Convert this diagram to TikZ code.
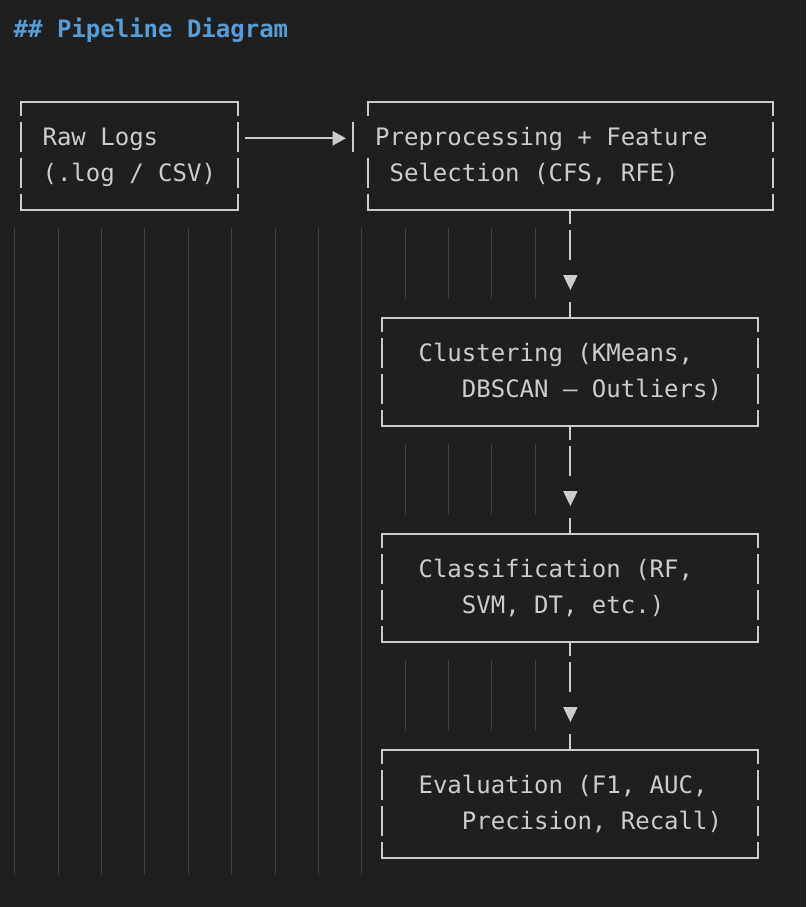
\documentclass[tikz,border=0pt]{standalone}
\usepackage{fontspec}
\newfontfamily\codefont{DejaVu Sans Mono}
\usetikzlibrary{fit}
\definecolor{bgc}{HTML}{1F1F1F}
\definecolor{fgc}{HTML}{CCCCCC}
\definecolor{guidec}{HTML}{404040}
\definecolor{headc}{HTML}{569CD6}
\newcommand\cx[1]{20.9+14.46*(#1)}
\newcommand\ry[1]{29.7+36*(#1)}
\newcommand\drawframe[1]{%
  \draw[hline] (#1.north west) -- (#1.north east);
  \draw[hline] (#1.south west) -- (#1.south east);
  \draw[vline] (#1.north west) -- (#1.south west);
  \draw[vline] (#1.north east) -- (#1.south east);}
\begin{document}
\begin{tikzpicture}[x=1pt,y=-1pt,
  txt/.style={anchor=base west, inner sep=0pt, outer sep=0pt, text=fgc,
    font=\codefont\fontsize{24}{24}\selectfont\frenchspacing},
  head/.style={txt, text=headc,
    font=\codefont\bfseries\fontsize{24}{24}\selectfont\frenchspacing},
  frame/.style={inner sep=0pt, outer sep=0pt},
  hline/.style={draw=fgc, line width=2pt, line cap=rect},
  vline/.style={draw=fgc, line width=2pt, dash pattern=on 30.3pt off 5.7pt, dash phase=16pt},
  vconn/.style={draw=fgc, line width=2pt, dash pattern=on 14.3pt off 5.7pt on 30.3pt off 41.7pt on 16pt},
  hconn/.style={draw=fgc, line width=2pt},
  guide/.style={draw=guidec, line width=1pt},
]
\fill[bgc] (0,0) rectangle (806,907);
\useasboundingbox (0,0) rectangle (806,907);

% indent guides
\foreach \c in {0,3,...,24}
  \draw[guide] ({14.8+14.46*\c},{\ry{6}-18}) -- ({14.8+14.46*\c},{\ry{23}+17});
\foreach \c in {27,30,33,36}
  \foreach \r in {6,12,18}
    \draw[guide] ({14.8+14.46*\c},{\ry{\r}-18}) -- ({14.8+14.46*\c},{\ry{\r}+53});

% title
\node[head] (title) at ({\cx{0}-7.23},{\ry{0}+7.4}) {\#\# Pipeline Diagram};

% boxes
\node[frame, fit={({\cx{0}},{\ry{2}}) ({\cx{15}},{\ry{5}})}] (raw) {};
\node[frame, fit={({\cx{24}},{\ry{2}}) ({\cx{52}},{\ry{5}})}] (prep) {};
\node[frame, fit={({\cx{25}},{\ry{8}}) ({\cx{51}},{\ry{11}})}] (clus) {};
\node[frame, fit={({\cx{25}},{\ry{14}}) ({\cx{51}},{\ry{17}})}] (cls) {};
\node[frame, fit={({\cx{25}},{\ry{20}}) ({\cx{51}},{\ry{23}})}] (eval) {};

\drawframe{raw}
\drawframe{clus}
\drawframe{cls}
\drawframe{eval}
% preprocessing box: left side shifted one cell on the first text row
\draw[hline] (prep.north west) -- (prep.north east);
\draw[hline] (prep.south west) -- (prep.south east);
\draw[vline] (prep.north east) -- (prep.south east);
\draw[draw=fgc, line width=2pt, dash pattern=on 14.3pt off 41.7pt on 30.3pt off 5.7pt on 16pt]
  (prep.north west) -- (prep.south west);
\draw[draw=fgc, line width=2pt] ({\cx{23}},{\ry{3}-16}) -- ({\cx{23}},{\ry{3}+14.3});

% texts
\node[txt] (raw-a)  at ({\cx{2}-7.23},{\ry{3}+7.4}) {Raw Logs};
\node[txt] (raw-b)  at ({\cx{2}-7.23},{\ry{4}+7.4}) {(.log / CSV)};
\node[txt] (prep-a) at ({\cx{25}-7.23},{\ry{3}+7.4}) {Preprocessing + Feature};
\node[txt] (prep-b) at ({\cx{26}-7.23},{\ry{4}+7.4}) {Selection (CFS, RFE)};
\node[txt] (clus-a) at ({\cx{28}-7.23},{\ry{9}+7.4}) {Clustering (KMeans,};
\node[txt] (clus-b) at ({\cx{31}-7.23},{\ry{10}+7.4}) {DBSCAN – Outliers)};
\node[txt] (cls-a)  at ({\cx{28}-7.23},{\ry{15}+7.4}) {Classification (RF,};
\node[txt] (cls-b)  at ({\cx{31}-7.23},{\ry{16}+7.4}) {SVM, DT, etc.)};
\node[txt] (eval-a) at ({\cx{28}-7.23},{\ry{21}+7.4}) {Evaluation (F1, AUC,};
\node[txt] (eval-b) at ({\cx{31}-7.23},{\ry{22}+7.4}) {Precision, Recall)};

% horizontal arrow
\coordinate (row3) at (0,{\ry{3}+0.6});
\path (raw.east |- row3) ++(7.3,0) coordinate (ar-s);
\path (prep.west |- row3) ++(-35.4,0) coordinate (ar-t);
\draw[hconn] (ar-s) -- (ar-t);
\fill[fgc] (ar-t) ++(0,-7.4) -- ++(13.3,7.4) -- ++(-13.3,7.4) -- cycle;

% vertical connectors
\coordinate (vx) at ({\cx{38}},0);
\draw[vconn] (prep.south -| vx) -- coordinate[pos=0.6667] (t1) (clus.north -| vx);
\draw[vconn] (clus.south -| vx) -- coordinate[pos=0.6667] (t2) (cls.north -| vx);
\draw[vconn] (cls.south -| vx) -- coordinate[pos=0.6667] (t3) (eval.north -| vx);
\foreach \t in {t1,t2,t3}
  \fill[fgc] (\t) ++(-7.3,-6.7) -- ++(14.6,0) -- ++(-7.3,15) -- cycle;
\end{tikzpicture}
\end{document}
